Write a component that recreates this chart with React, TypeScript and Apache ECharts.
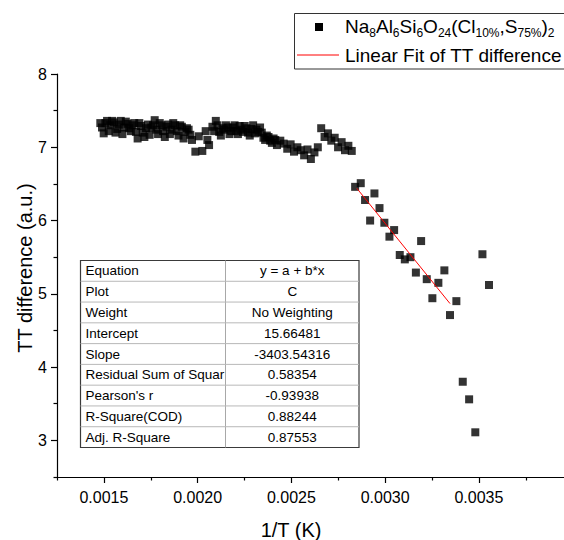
import React, { useEffect, useRef } from 'react';
import * as echarts from 'echarts';

// ---------- data ----------
const plateauX = [
  0.001481, 0.001499, 0.001517, 0.001535, 0.001553, 0.001571, 0.00159, 0.001608, 0.001626, 0.001644,
  0.001662, 0.00168, 0.001698, 0.001716, 0.001735, 0.001753, 0.001771, 0.001789, 0.001807, 0.001825,
  0.001843, 0.001861, 0.00188, 0.001898, 0.001916, 0.001934, 0.001952, 0.00197, 0.001988, 0.002006,
  0.002025, 0.002043, 0.002061, 0.002079, 0.002097, 0.002115, 0.002133, 0.002151, 0.00217, 0.002188,
  0.002206, 0.002224, 0.002242, 0.00226, 0.002278, 0.002296, 0.002314, 0.002333, 0.002351, 0.002369,
  0.002387, 0.002405, 0.002423, 0.002441, 0.002459, 0.002478, 0.002496, 0.002514, 0.002532, 0.00255,
  0.002568, 0.002586, 0.002604, 0.002623, 0.002641, 0.002659, 0.002677, 0.002695, 0.002713, 0.002731,
  0.002749, 0.002768, 0.002786, 0.002804, 0.002822,
];
const plateauY = [
  7.33, 7.19, 7.36, 7.3, 7.34, 7.25, 7.36, 7.27, 7.32, 7.22,
  7.33, 7.12, 7.29, 7.14, 7.31, 7.27, 7.37, 7.18, 7.3, 7.14,
  7.31, 7.24, 7.3, 7.16, 7.28, 7.21, 7.24, 7.1, 6.94, 7.15,
  6.95, 7.22, 7.03, 7.28, 7.36, 7.21, 7.26, 7.3, 7.18, 7.27,
  7.22, 7.29, 7.21, 7.26, 7.16, 7.3, 7.24, 7.27, 7.13, 7.16,
  7.09, 7.12, 7.03, 7.09, 7.05, 6.98, 7.04, 6.94, 7.0, 6.96,
  6.89, 6.97, 6.84, 6.93, 7.0, 7.26, 7.14, 7.19, 7.09, 7.13,
  7.0, 7.07, 6.96, 7.02, 6.95,
];
const plateauX2 = [
  0.00149, 0.001508, 0.001526, 0.001544, 0.001562, 0.00158, 0.001599, 0.001617, 0.001635, 0.001653,
  0.001671, 0.001689, 0.001707, 0.001725, 0.001744, 0.001762, 0.00178, 0.001798, 0.001816, 0.001834,
  0.001852, 0.00187, 0.001889, 0.001907, 0.001925, 0.001943, 0.001961, 0.002052, 0.002088, 0.002106,
  0.002124, 0.002142, 0.00216, 0.002179, 0.002197, 0.002215, 0.002233, 0.002251, 0.002269, 0.002287,
  0.002305, 0.002323, 0.002342, 0.00236, 0.002378, 0.002396, 0.002414,
];
const plateauY2 = [
  7.27, 7.33, 7.22, 7.36, 7.2, 7.31, 7.18, 7.35, 7.26, 7.3,
  7.21, 7.33, 7.2, 7.26, 7.17, 7.3, 7.24, 7.33, 7.22, 7.28,
  7.18, 7.33, 7.22, 7.3, 7.12, 7.26, 7.17, 7.1, 7.22, 7.3,
  7.16, 7.24, 7.27, 7.22, 7.3, 7.18, 7.24, 7.29, 7.2, 7.25,
  7.19, 7.21, 7.2, 7.1, 7.14, 7.06, 7.1,
];
const dropX = [
  0.00284, 0.00287, 0.002893, 0.002943, 0.00297, 0.00292, 0.002996, 0.003048, 0.003023, 0.003192,
  0.003078, 0.003105, 0.003135, 0.003164, 0.003222, 0.003316, 0.003284, 0.003252, 0.00338, 0.003346,
  0.003519, 0.003554, 0.003414, 0.003448, 0.003481,
];
const dropY = [
  6.46, 6.51, 6.28, 6.37, 6.17, 6.0, 5.97, 5.87, 5.78, 5.72,
  5.53, 5.47, 5.5, 5.29, 5.2, 5.32, 5.15, 4.94, 4.9, 4.71,
  5.54, 5.12, 3.8, 3.56, 3.11,
];
const fitX = [0.002849, 0.003346];
const fitY = [6.44, 4.867];

const xMajorTicks = [0.0015, 0.002, 0.0025, 0.003, 0.0035];
const xMinorTicks = [0.00125, 0.00175, 0.00225, 0.00275, 0.00325, 0.00375];
const yMajorTicks = [3, 4, 5, 6, 7, 8];
const yMinorTicks = [2.5, 3.5, 4.5, 5.5, 6.5, 7.5];

const tableLabels = [
  'Equation', 'Plot', 'Weight', 'Intercept', 'Slope',
  'Residual Sum of Squar', "Pearson's r", 'R-Square(COD)', 'Adj. R-Square',
];
const tableValues = [
  'y = a + b*x', 'C', 'No Weighting', '15.66481', '-3403.54316',
  '0.58354', '-0.93938', '0.88244', '0.87553',
];

const seriesName = 'Na8Al6Si6O24(Cl10%,S75%)2';
const fitName = 'Linear Fit of TT difference';
const xTitle = '1/T (K)';
const yTitle = 'TT difference (a.u.)';

const X_MIN = 0.00125;
const X_MAX = 0.003954;
const Y_MIN = 2.5;
const Y_MAX = 8;

const FONT = "'Liberation Sans', Arial, Helvetica, sans-serif";

export default function App() {
  const ref = useRef<HTMLDivElement>(null);

  useEffect(() => {
    if (!ref.current) return;
    const chart = echarts.init(ref.current, undefined, { renderer: 'svg' });

    const scatterData = plateauX
      .map((x, i) => [x, plateauY[i]])
      .concat(plateauX2.map((x, i) => [x, plateauY2[i]]))
      .concat(dropX.map((x, i) => [x, dropY[i]]));
    const fitData = fitX.map((x, i) => [x, fitY[i]]);

    const gridBox = { left: 57, top: 74, right: 0, bottom: 63, containLabel: false, outerBoundsMode: 'none' };

    // table graphics
    const tx0 = 80.5, ty0 = 260.5, tw = 278.5, colX = 225.5;
    const rowH = (447.5 - ty0) / tableLabels.length;
    const tableEls: any[] = [
      {
        type: 'rect',
        shape: { x: tx0, y: ty0, width: tw, height: rowH * tableLabels.length },
        style: { fill: '#fff', stroke: '#3a3a3a', lineWidth: 1.2 },
        z: 10,
      },
      {
        type: 'line',
        shape: { x1: colX, y1: ty0, x2: colX, y2: ty0 + rowH * tableLabels.length },
        style: { stroke: '#a8a8a8', lineWidth: 1 },
        z: 11,
      },
    ];
    for (let i = 1; i < tableLabels.length; i++) {
      tableEls.push({
        type: 'line',
        shape: { x1: tx0, y1: ty0 + i * rowH, x2: tx0 + tw, y2: ty0 + i * rowH },
        style: { stroke: '#b8b8b8', lineWidth: 1 },
        z: 11,
      });
    }
    tableLabels.forEach((lab, i) => {
      const cy = ty0 + (i + 0.5) * rowH;
      tableEls.push({
        type: 'text',
        x: tx0 + 5,
        y: cy,
        z: 12,
        style: {
          text: lab, fontSize: 13.5, fontFamily: FONT, fill: '#000',
          align: 'left', verticalAlign: 'middle', textAlign: 'left', textVerticalAlign: 'middle',
        },
      });
      tableEls.push({
        type: 'text',
        x: (colX + tx0 + tw) / 2,
        y: cy,
        z: 12,
        style: {
          text: tableValues[i], fontSize: 13.5, fontFamily: FONT, fill: '#000',
          align: 'center', verticalAlign: 'middle', textAlign: 'center', textVerticalAlign: 'middle',
        },
      });
    });

    const legendEls: any[] = [
      {
        type: 'rect',
        shape: { x: 294.5, y: 13.5, width: 300, height: 55.5 },
        style: { fill: '#fff', stroke: '#333', lineWidth: 1 },
        z: 10,
      },
      {
        type: 'rect',
        shape: { x: 315, y: 23, width: 8, height: 8 },
        style: { fill: '#000' },
        z: 11,
      },
      {
        type: 'text',
        x: 345,
        y: 26,
        z: 11,
        style: {
          text:
            '{n|Na}{s|8}{n|Al}{s|6}{n|Si}{s|6}{n|O}{s|24}{n|(Cl}{s|10%}{n|,S}{s|75%}{n|)}{s|2}',
          fontFamily: FONT,
          fontSize: 19,
          fill: '#000',
          align: 'left', verticalAlign: 'middle', textAlign: 'left', textVerticalAlign: 'middle',
          rich: {
            n: { fontSize: 19, fontFamily: FONT, fill: '#000' },
            s: { fontSize: 12, fontFamily: FONT, fill: '#000', padding: [13, 0, 0, 0] },
          },
        },
      },
      {
        type: 'line',
        shape: { x1: 297, y1: 55, x2: 339, y2: 55 },
        style: { stroke: '#ff0000', lineWidth: 1 },
        z: 11,
      },
      {
        type: 'text',
        x: 345,
        y: 55,
        z: 11,
        style: {
          text: fitName, fontSize: 19, fontFamily: FONT, fill: '#000',
          align: 'left', verticalAlign: 'middle', textAlign: 'left', textVerticalAlign: 'middle',
        },
      },
    ];

    const titleEls: any[] = [
      {
        type: 'text',
        x: 291,
        y: 530,
        style: {
          text: xTitle, fontSize: 20, fontFamily: FONT, fill: '#000',
          align: 'center', verticalAlign: 'middle', textAlign: 'center', textVerticalAlign: 'middle',
        },
      },
      {
        type: 'text',
        x: 25,
        y: 268,
        rotation: Math.PI / 2,
        style: {
          text: yTitle, fontSize: 20, fontFamily: FONT, fill: '#000',
          align: 'center', verticalAlign: 'middle', textAlign: 'center', textVerticalAlign: 'middle',
        },
      },
    ];

    const axisLineStyle = { color: '#000', width: 1.2 };

    chart.setOption({
      animation: false,
      backgroundColor: '#fff',
      grid: [gridBox, gridBox],
      xAxis: [
        {
          type: 'value', gridIndex: 0, min: X_MIN, max: X_MAX, position: 'bottom',
          axisLine: { show: true, onZero: false, lineStyle: axisLineStyle },
          axisTick: { show: true, customValues: xMajorTicks, length: 6, lineStyle: axisLineStyle },
          axisLabel: {
            customValues: xMajorTicks,
            formatter: (v: number) => v.toFixed(4),
            fontSize: 16, fontFamily: FONT, color: '#000', margin: 12,
          },
          splitLine: { show: false },
        },
        {
          type: 'value', gridIndex: 1, min: X_MIN, max: X_MAX, position: 'bottom',
          axisLine: { show: false, onZero: false },
          axisTick: { show: true, customValues: xMinorTicks, length: 3.5, lineStyle: axisLineStyle },
          axisLabel: { show: false },
          splitLine: { show: false },
        },
      ],
      yAxis: [
        {
          type: 'value', gridIndex: 0, min: Y_MIN, max: Y_MAX, position: 'left',
          axisLine: { show: true, onZero: false, lineStyle: axisLineStyle },
          axisTick: { show: true, customValues: yMajorTicks, length: 6, lineStyle: axisLineStyle },
          axisLabel: {
            customValues: yMajorTicks,
            formatter: (v: number) => String(Math.round(v)),
            fontSize: 16, fontFamily: FONT, color: '#000', margin: 10,
          },
          splitLine: { show: false },
        },
        {
          type: 'value', gridIndex: 1, min: Y_MIN, max: Y_MAX, position: 'left',
          axisLine: { show: false, onZero: false },
          axisTick: { show: true, customValues: yMinorTicks, length: 3.5, lineStyle: axisLineStyle },
          axisLabel: { show: false },
          splitLine: { show: false },
        },
      ],
      series: [
        {
          name: seriesName,
          type: 'scatter',
          xAxisIndex: 0,
          yAxisIndex: 0,
          symbol: 'rect',
          symbolSize: 8,
          itemStyle: { color: '#000' },
          data: scatterData,
          z: 3,
        },
        {
          name: fitName,
          type: 'line',
          xAxisIndex: 0,
          yAxisIndex: 0,
          showSymbol: false,
          symbol: 'none',
          lineStyle: { color: '#ff0000', width: 1 },
          data: fitData,
          z: 4,
        },
      ],
      graphic: [...tableEls, ...legendEls, ...titleEls],
    });

    return () => chart.dispose();
  }, []);

  return (
    <div
      ref={ref}
      style={{ position: 'fixed', left: 0, top: 0, width: 564, height: 540, background: '#fff' }}
    />
  );
}
